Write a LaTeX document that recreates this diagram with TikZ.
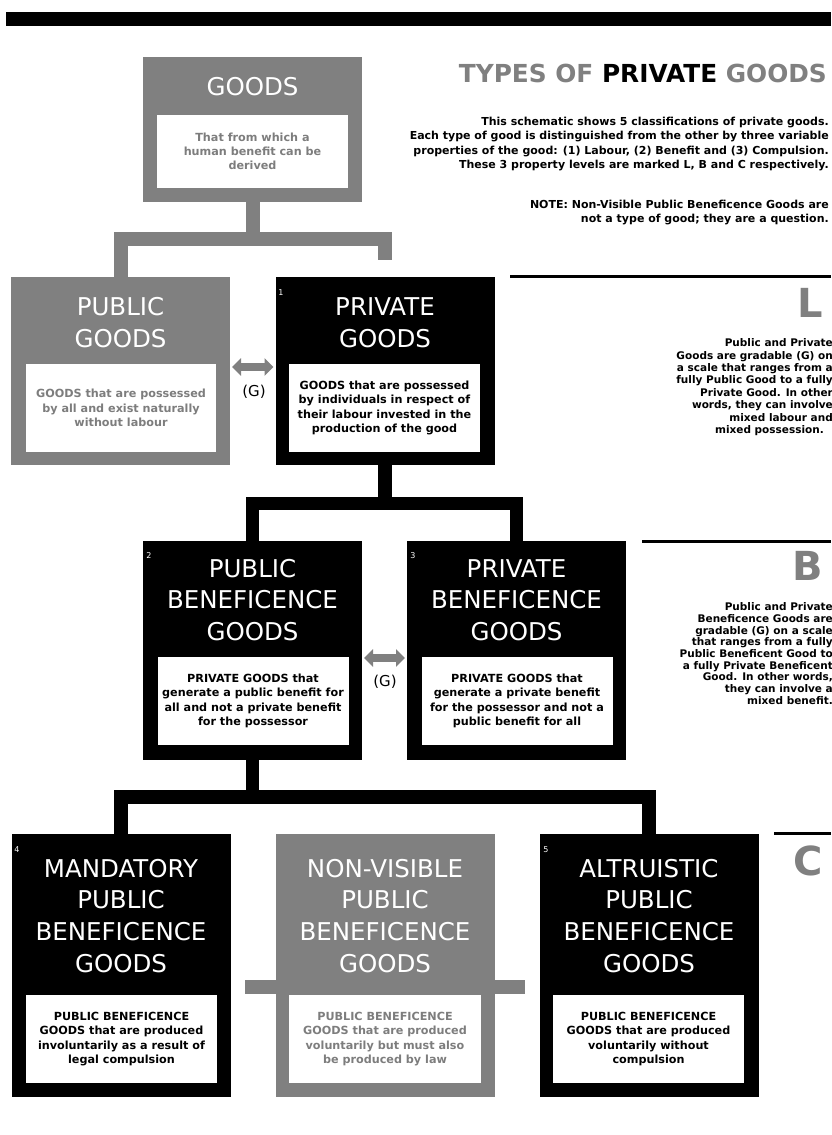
\documentclass[tikz,border=0pt]{standalone}
\usepackage{fontspec}
\setmainfont{DejaVu Sans}
\usetikzlibrary{arrows.meta}
\definecolor{gbox}{RGB}{128,128,128}
\definecolor{gtxt}{RGB}{125,125,125}
\newcommand{\ttlfont}{\fontsize{24.5}{31.7}\selectfont}
\newcommand{\bdyfont}{\fontsize{11.2}{14.3}\selectfont\bfseries}
\tikzset{
  outerbox/.style={minimum width=219, minimum height=#1, inner sep=0, outer sep=0},
  blackbox/.style={outerbox=#1, fill=black},
  graybox/.style={outerbox=#1, fill=gbox},
  innerbox/.style={fill=white, minimum width=191, minimum height=88, inner sep=0, outer sep=0, font=\bdyfont, align=center},
  boxtitle/.style={text=white, font=\ttlfont, align=center, inner sep=0},
  numlabel/.style={text=white, font=\fontsize{8}{9}\selectfont, inner sep=0},
  bconn/.style={draw=black, line width=13.5},
  gconn/.style={draw=gbox, line width=14},
  garrow/.style={draw=gbox, line width=8, {Triangle[length=9pt,width=17pt]}-{Triangle[length=9pt,width=17pt]}},
  glabel/.style={font=\fontsize{15}{16}\selectfont, inner sep=0},
  sidetext/.style={align=right, anchor=north east, inner sep=0},
  bigletter/.style={font=\fontsize{40}{40}\selectfont\bfseries, text=gbox, anchor=base east, inner sep=0},
  hrule/.style={draw=black, line width=3},
}
\begin{document}
\begin{tikzpicture}[x=1pt, y=-1pt]
\useasboundingbox (0,0) rectangle (831,1135);
\fill[white] (0,0) rectangle (831,1135);
% top bar
\fill[black] (6,12) rectangle (831,26);

% ---------- boxes ----------
% GOODS
\node[graybox=145] (goods) at (252.5,129.5) {};
\node[boxtitle] (goodsT) at (252.5,86.5) {GOODS};
\node[innerbox, minimum height=73, text=gtxt] (goodsI) at (252.5,151.5) {That from which a\\human benefit can be\\derived};

% level 1
\node[graybox=188] (pubg) at (120.5,371) {};
\node[boxtitle] (pubgT) at (120.5,322.5) {PUBLIC\\GOODS};
\node[innerbox, minimum width=190, text=gtxt] (pubgI) at (121,408) {GOODS that are possessed\\by all and exist naturally\\without labour};

\node[blackbox=188] (privg) at (385,371) {};
\node[boxtitle] (privgT) at (385,322.5) {PRIVATE\\GOODS};
\node[innerbox] (privgI) at (384.5,408) {GOODS that are possessed\\by individuals in respect of\\their labour invested in the\\production of the good};
\node[numlabel] (n1) at (281,293) {1};

% level 2
\node[blackbox=219] (pubb) at (252.5,650.5) {};
\node[boxtitle] (pubbT) at (252.5,600) {PUBLIC\\BENEFICENCE\\GOODS};
\node[innerbox] (pubbI) at (253,701) {PRIVATE GOODS that\\generate a public benefit for\\all and not a private benefit\\for the possessor};
\node[numlabel] (n2) at (149,556) {2};

\node[blackbox=219] (privb) at (516.5,650.5) {};
\node[boxtitle] (privbT) at (516.5,600) {PRIVATE\\BENEFICENCE\\GOODS};
\node[innerbox] (privbI) at (517,701) {PRIVATE GOODS that\\generate a private benefit\\for the possessor and not a\\public benefit for all};
\node[numlabel] (n3) at (413,556) {3};

% level 3
\coordinate (xl) at (245,987);
\coordinate (xr) at (525,987);
\draw[gconn] (xl) -- (xr);

\node[blackbox=263] (mand) at (121,965.5) {};
\node[boxtitle] (mandT) at (121,915.75) {MANDATORY\\PUBLIC\\BENEFICENCE\\GOODS};
\node[innerbox] (mandI) at (121.5,1039) {PUBLIC BENEFICENCE\\GOODS that are produced\\involuntarily as a result of\\legal compulsion};
\node[numlabel] (n4) at (17,850) {4};

\node[graybox=263] (nonv) at (385,965.5) {};
\draw[gconn] (xl) -- ([xshift=2pt]nonv.west |- xl);
\draw[gconn] ([xshift=-2pt]nonv.east |- xr) -- (xr);
\node[boxtitle] (nonvT) at (385,915.75) {NON-VISIBLE\\PUBLIC\\BENEFICENCE\\GOODS};
\node[innerbox, minimum width=192, text=gtxt] (nonvI) at (385,1039) {PUBLIC BENEFICENCE\\GOODS that are produced\\voluntarily but must also\\be produced by law};

\node[blackbox=263] (altr) at (649,965.5) {};
\node[boxtitle] (altrT) at (649,915.75) {ALTRUISTIC\\PUBLIC\\BENEFICENCE\\GOODS};
\node[innerbox] (altrI) at (648.5,1039) {PUBLIC BENEFICENCE\\GOODS that are produced\\voluntarily without\\compulsion};
\node[numlabel] (n5) at (546,850) {5};

% ---------- connectors ----------
\coordinate (gbar) at (252.5,239);
\coordinate (gstub) at (385,260);
\draw[gconn] (goods.south) -- (gbar);
\draw[gconn] (pubg.north) |- (gbar) -| (gstub);

\coordinate (bbar1) at (385,503.5);
\draw[bconn] (privg.south) -- (bbar1);
\draw[bconn] (pubb.north) |- (bbar1) -| (privb.north);

\coordinate (bbar2) at (252.5,797);
\draw[bconn] (pubb.south) -- (bbar2);
\draw[bconn] (mand.north) |- (bbar2) -| (altr.north);

% gradable arrows
\draw[garrow] ([xshift=2pt,yshift=4pt]pubg.east) -- ([xshift=-2pt,yshift=4pt]privg.west);
\node[glabel] (g1) at (254,392) {(G)};
\draw[garrow] ([xshift=2pt,yshift=-7.5pt]pubb.east) -- ([xshift=-2pt,yshift=-7.5pt]privb.west);
\node[glabel] (g2) at (385,682) {(G)};

% ---------- right column ----------
\node[anchor=base east, inner sep=0, font=\fontsize{24.8}{26}\selectfont\bfseries, text=gbox] (head) at (827,82) {TYPES OF \textcolor{black}{PRIVATE} GOODS};
\node[sidetext, font=\fontsize{11}{14.3}\selectfont\bfseries] (para) at (829,117) {This schematic shows 5 classifications of private goods.\\Each type of good is distinguished from the other by three variable\\properties of the good: (1) Labour, (2) Benefit and (3) Compulsion.\\These 3 property levels are marked L, B and C respectively.};
\node[sidetext, font=\fontsize{11}{14.3}\selectfont\bfseries] (note) at (829,200) {NOTE: Non-Visible Public Beneficence Goods are\\not a type of good; they are a question.};

\coordinate (lr1) at (510,276);
\coordinate (lr2) at (831,276);
\draw[hrule] (lr1) -- (lr2);
\node[bigletter] (Lt) at (823,317) {L};
\node[sidetext, font=\fontsize{10.5}{12.4}\selectfont\bfseries] (ltext) at (833,338.5) {Public and Private\\Goods are gradable (G) on\\a scale that ranges from a\\fully Public Good to a fully\\Private Good. In other\\words, they can involve\\mixed labour and\\mixed possession.\hspace*{9pt}};

\coordinate (br1) at (642,541);
\coordinate (br2) at (831,541);
\draw[hrule] (br1) -- (br2);
\node[bigletter] (Bt) at (823,580) {B};
\node[sidetext, font=\fontsize{10.5}{11.7}\selectfont\bfseries] (btext) at (833,602.5) {Public and Private\\Beneficence Goods are\\gradable (G) on a scale\\that ranges from a fully\\Public Beneficent Good to\\a fully Private Beneficent\\Good. In other words,\\they can involve a\\mixed benefit.};

\coordinate (cr1) at (774,833);
\coordinate (cr2) at (831,833);
\draw[hrule] (cr1) -- (cr2);
\node[bigletter] (Ct) at (823,875) {C};
\end{tikzpicture}
\end{document}
